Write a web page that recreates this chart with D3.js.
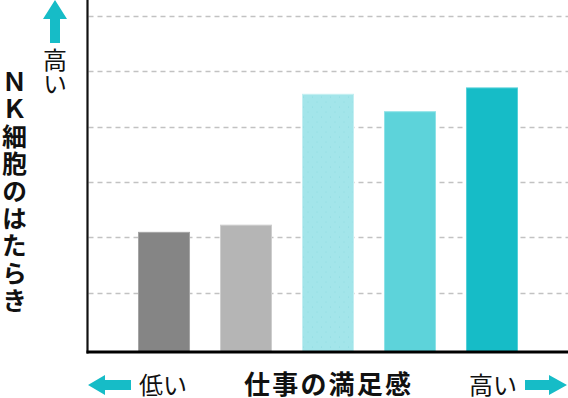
<!DOCTYPE html>
<html>
<head>
<meta charset="utf-8">
<script src="https://cdn.jsdelivr.net/npm/d3@7"></script>
<style>
  html, body { margin: 0; padding: 0; background: #fff; }
  svg { display: block; }
  text { font-family: "Noto Sans CJK JP", "Noto Sans", sans-serif; }
</style>
</head>
<body>
<svg id="chart" width="568" height="398"></svg>
<script>
// ---- data ----
const categories = ["低い", "やや低い", "ふつう", "やや高い", "高い"];
const values = [2.09, 2.22, 4.585, 4.27, 4.70];
const gridTicks = [1, 2, 3, 4, 5, 6];
const barColors = ["#858585", "#b5b5b5", "#a3e5ea", "#5dd3da", "#16bcc7"];
const barStrokes = ["#a5a5a5", "#cdcdcd", "#c4eff2", "#8ee2e7", "#55d0d8"];
const yTitle = "ＮＫ細胞のはたらき";
const xTitle = "仕事の満足感";
const lowLabel = "低い";
const highLabel = "高い";

const svg = d3.select("#chart");
const W = 568, H = 398;
const axisX = 87.5, baseY = 352;

const x = d3.scaleBand().domain(categories).range([88, 568])
  .paddingInner(0.378).paddingOuter(0.616);
const y = d3.scaleLinear().domain([0, 6]).range([348, 16]);

// texture pattern for 3rd bar
const defs = svg.append("defs");
const pat = defs.append("pattern").attr("id", "dots")
  .attr("patternUnits", "userSpaceOnUse").attr("width", 9).attr("height", 10);
pat.append("rect").attr("width", 9).attr("height", 10).attr("fill", barColors[2]);
pat.append("circle").attr("cx", 2).attr("cy", 2).attr("r", 0.5).attr("fill", "#86d9df");
pat.append("circle").attr("cx", 6.5).attr("cy", 7).attr("r", 0.5).attr("fill", "#86d9df");

// gridlines
svg.append("g").selectAll("line").data(gridTicks).join("line")
  .attr("x1", axisX + 1).attr("x2", W)
  .attr("y1", d => Math.round(y(d)) + 0.5).attr("y2", d => Math.round(y(d)) + 0.5)
  .attr("stroke", "#c2c2c2").attr("stroke-width", 1.3)
  .attr("stroke-dasharray", "5,4");

// bars
svg.append("g").selectAll("rect").data(values).join("rect")
  .attr("x", (d, i) => x(categories[i]))
  .attr("width", x.bandwidth())
  .attr("y", d => y(d))
  .attr("height", d => baseY - y(d))
  .attr("fill", (d, i) => i === 2 ? "url(#dots)" : barColors[i])
  .attr("stroke", (d, i) => barStrokes[i])
  .attr("stroke-width", 1);

// axes
svg.append("line").attr("x1", axisX).attr("x2", axisX).attr("y1", 0).attr("y2", baseY + 1.5)
  .attr("stroke", "#111").attr("stroke-width", 2.2);
svg.append("line").attr("x1", axisX - 1).attr("x2", W).attr("y1", baseY).attr("y2", baseY)
  .attr("stroke", "#000").attr("stroke-width", 3);

const arrowColor = "#16bcc7";
// up arrow
svg.append("path")
  .attr("d", "M55,0 L67,19 L60,19 L60,43 L50,43 L50,19 L43,19 Z")
  .attr("fill", arrowColor);
// left arrow
svg.append("path")
  .attr("d", "M88,385 L105,375 L105,380 L131,380 L131,390 L105,390 L105,395 Z")
  .attr("fill", arrowColor);
// right arrow
svg.append("path")
  .attr("d", "M567,385 L549,375 L549,380 L525,380 L525,390 L549,390 L549,395 Z")
  .attr("fill", arrowColor);

// y title (vertical)
svg.append("text")
  .attr("x", 14.5).attr("y", 69)
  .attr("writing-mode", "vertical-rl")
  .style("text-orientation", "upright")
  .attr("font-size", 25).attr("font-weight", "bold")
  .attr("letter-spacing", 2.4)
  .attr("fill", "#111")
  .text(yTitle);

// "高い" vertical near up arrow
svg.append("text")
  .attr("x", 55).attr("y", 47.5)
  .attr("writing-mode", "vertical-rl")
  .style("text-orientation", "upright")
  .attr("font-size", 24)
  .attr("fill", "#111")
  .text(highLabel);

// bottom labels
svg.append("text").attr("x", 139).attr("y", 394)
  .attr("font-size", 24).attr("fill", "#111").text(lowLabel);
svg.append("text").attr("x", 244).attr("y", 394)
  .attr("font-size", 26).attr("font-weight", "bold").attr("letter-spacing", 2.2)
  .attr("fill", "#111").text(xTitle);
svg.append("text").attr("x", 469).attr("y", 394)
  .attr("font-size", 24).attr("fill", "#111").text(highLabel);
</script>
</body>
</html>
